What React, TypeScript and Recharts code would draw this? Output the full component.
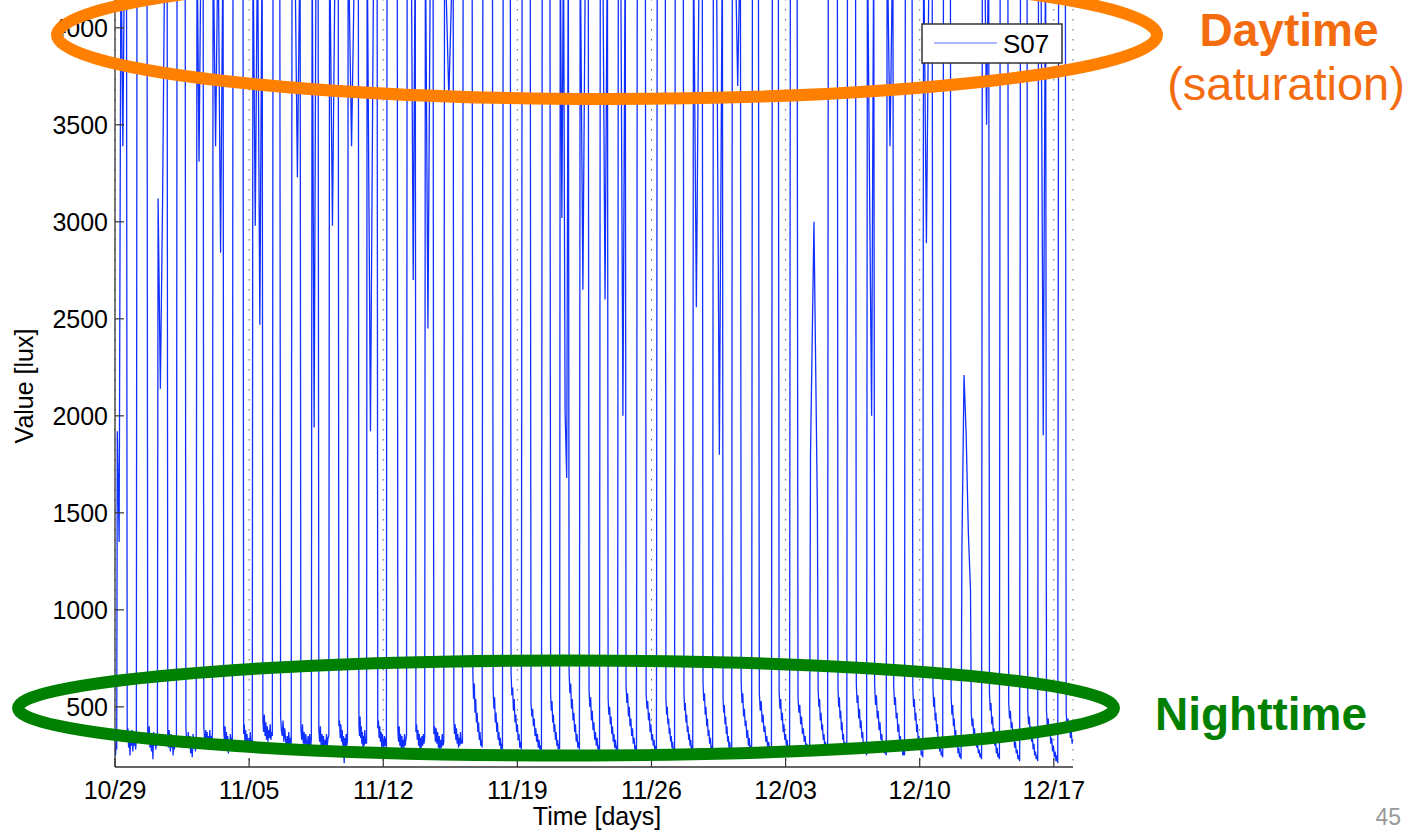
import React from 'react';
import { LineChart, Line, XAxis, YAxis, CartesianGrid } from 'recharts';

const FONT = '"Liberation Sans", Arial, Helvetica, sans-serif';
const SAT = 4500; // sensor saturation, drawn above the visible top

// x axis: days since 10/29
const tickDays = [0, 7, 14, 21, 28, 35, 42, 49];
const tickLabels = ['10/29', '11/05', '11/12', '11/19', '11/26', '12/03', '12/10', '12/17'];
const yTicks = [500, 1000, 1500, 2000, 2500, 3000, 3500, 4000];

// fraction of each day when the light rises / falls
const riseAt = [
  0.12, 0.15, 0.25, 0.24, 0.28, 0.12, 0.16, 0.2, 0.25, 0.24,
  0.29, 0.2, 0.17, 0.16, 0.2, 0.25, 0.2, 0.2, 0.17, 0.2,
  0.26, 0.25, 0.3, 0.24, 0.28, 0.33, 0.27, 0.26, 0.3, 0.24,
  0.19, 0.23, 0.22, 0.27, 0.31, 0.25, 0.3, 0.23, 0.23, 0.27,
  0.3, 0.25, 0.2, 0.24, 0.2, 0.27, 0.2, 0.26, 0.2, 0.25,
];
const setAt = [
  0.6, 0.67, 0.72, 0.66, 0.6, 0.64, 0.68, 0.68, 0.6, 0.66,
  0.6, 0.65, 0.7, 0.68, 0.73, 0.67, 0.6, 0.65, 0.64, 0.7,
  0.63, 0.67, 0.7, 0.66, 0.7, 0.7, 0.63, 0.68, 0.72, 0.66,
  0.65, 0.7, 0.64, 0.58, 0.62, 0.6, 0.66, 0.7, 0.65, 0.6,
  0.6, 0.6, 0.65, 0.6, 0.65, 0.6, 0.6, 0.6, 0.57, 0.6,
];

// daytime readings; days not listed stay saturated
const dayDips: Record<number, number[]> = {
  0: [1920, 1350, SAT, 3390, SAT, SAT],
  2: [3120, 2140, 3120, SAT, SAT],
  4: [SAT, 3310, SAT, SAT],
  5: [SAT, 3390, SAT, 2840, SAT],
  7: [SAT, 2980, SAT, 2470, SAT],
  9: [SAT, SAT, 3230, SAT],
  10: [SAT, 1940, SAT, SAT],
  11: [SAT, 2980, SAT, SAT],
  12: [SAT, 3390, SAT, SAT],
  13: [SAT, 1920, SAT, SAT],
  15: [SAT, SAT, SAT, 2700, SAT],
  16: [SAT, 2450, SAT, SAT],
  17: [SAT, 3640, SAT],
  23: [SAT, 3020, SAT, 2020, 1680, SAT],
  24: [SAT, 2650, SAT, SAT],
  25: [SAT, SAT, 2600, SAT],
  26: [SAT, SAT, 2000, SAT],
  30: [SAT, 2560, SAT, SAT],
  31: [SAT, SAT, 1800, SAT],
  32: [SAT, SAT, 3700, SAT],
  36: [1800, 3000, 1500],
  39: [SAT, 3200, 2000, SAT],
  40: [SAT, 3390, SAT],
  42: [SAT, 2890, SAT, SAT],
  44: [1300, 2210, 1900, 1400, 1100],
  45: [SAT, SAT, 3500, SAT],
  48: [SAT, SAT, 1900, SAT],
};

// readings before the first sunrise
const preVals = [300, 250, 340, 280];

// night readings after each day's light falls
const nightVals = [
  [330, 390, 290, 360, 250, 350, 300, 380, 270, 340, 300, 370, 280, 330],
  [370, 310, 400, 290, 360, 270, 350, 230, 370, 300, 350, 280, 340, 300],
  [350, 290, 380, 310, 270, 360, 290, 340, 250, 330, 280, 350, 300, 320],
  [390, 320, 290, 370, 300, 350, 260, 340, 240, 360, 290, 330, 270, 350],
  [400, 340, 300, 380, 310, 370, 280, 350, 300, 380, 310, 350, 290, 370],
  [380, 330, 400, 300, 370, 290, 350, 260, 330, 280, 360, 300, 340, 290],
  [360, 410, 320, 380, 290, 360, 310, 270, 340, 290, 370, 300, 330, 300],
  [430, 370, 460, 350, 420, 330, 400, 320, 380, 340, 410, 330, 370, 350],
  [450, 380, 350, 430, 320, 390, 340, 290, 350, 300, 370, 290, 340, 310],
  [390, 330, 410, 310, 370, 280, 360, 320, 290, 350, 300, 360, 280, 340],
  [380, 320, 400, 290, 360, 300, 350, 270, 330, 290, 360, 300, 340, 350],
  [400, 430, 340, 410, 320, 380, 300, 350, 210, 340, 290, 360, 300, 330],
  [410, 350, 450, 340, 400, 310, 370, 290, 350, 300, 380, 310, 340, 310],
  [390, 430, 340, 400, 320, 370, 290, 360, 310, 280, 350, 300, 340, 290],
  [380, 320, 400, 300, 360, 290, 350, 270, 330, 290, 360, 300, 330, 350],
  [370, 410, 330, 380, 300, 360, 280, 340, 290, 350, 300, 360, 310, 340],
  [360, 400, 320, 390, 310, 370, 290, 350, 270, 330, 290, 360, 300, 320],
  [430, 360, 410, 330, 390, 310, 360, 290, 340, 300, 370, 310, 330, 310],
  [675, 540, 620, 470, 540, 420, 470, 370, 420, 330, 370, 300, 330, 290],
  [590, 490, 550, 420, 470, 370, 420, 330, 370, 300, 340, 280, 310, 280],
  [675, 560, 600, 480, 540, 420, 460, 370, 410, 330, 360, 290, 320, 280],
  [520, 450, 490, 400, 440, 350, 390, 320, 360, 290, 330, 280, 300, 270],
  [570, 480, 530, 420, 460, 370, 410, 330, 370, 300, 330, 280, 310, 280],
  [675, 570, 620, 490, 540, 430, 470, 370, 410, 320, 360, 290, 320, 280],
  [590, 500, 550, 430, 480, 380, 420, 330, 370, 300, 340, 280, 300, 270],
  [540, 460, 500, 410, 450, 360, 400, 320, 360, 290, 330, 280, 300, 270],
  [615, 520, 570, 450, 500, 400, 440, 350, 390, 310, 340, 280, 300, 260],
  [570, 490, 530, 430, 470, 370, 410, 330, 360, 300, 330, 270, 300, 270],
  [545, 460, 500, 410, 440, 360, 390, 320, 350, 290, 320, 270, 290, 260],
  [570, 480, 520, 420, 460, 370, 400, 330, 360, 300, 330, 270, 300, 270],
  [625, 530, 570, 460, 500, 400, 440, 350, 380, 310, 340, 280, 300, 270],
  [545, 470, 510, 410, 450, 360, 400, 320, 350, 290, 320, 270, 290, 260],
  [625, 520, 570, 450, 490, 400, 430, 340, 380, 300, 340, 280, 300, 270],
  [570, 480, 530, 420, 460, 370, 400, 320, 350, 290, 320, 270, 290, 260],
  [580, 490, 540, 430, 470, 370, 410, 330, 360, 300, 330, 270, 300, 270],
  [555, 470, 510, 410, 450, 360, 390, 320, 350, 280, 310, 260, 290, 250],
  [590, 500, 540, 430, 470, 380, 410, 330, 360, 290, 320, 270, 290, 260],
  [600, 500, 550, 440, 480, 380, 420, 330, 360, 290, 320, 270, 290, 260],
  [615, 520, 560, 440, 490, 390, 430, 340, 370, 290, 320, 260, 290, 250],
  [615, 510, 560, 440, 480, 380, 420, 330, 360, 280, 310, 260, 280, 250],
  [605, 510, 550, 440, 470, 370, 410, 320, 350, 280, 310, 250, 280, 250],
  [600, 500, 540, 430, 470, 370, 410, 320, 350, 280, 310, 250, 270, 240],
  [605, 500, 550, 430, 470, 370, 410, 310, 340, 270, 300, 250, 270, 240],
  [555, 460, 510, 400, 440, 350, 380, 300, 330, 260, 290, 240, 260, 230],
  [470, 400, 440, 360, 390, 320, 350, 290, 310, 260, 280, 240, 260, 230],
  [570, 480, 520, 410, 450, 360, 390, 300, 330, 260, 290, 240, 260, 230],
  [520, 440, 480, 390, 420, 340, 370, 290, 320, 260, 280, 230, 250, 220],
  [485, 410, 450, 370, 400, 320, 350, 280, 310, 250, 270, 230, 250, 220],
  [480, 400, 440, 360, 390, 310, 340, 270, 300, 240, 270, 220, 250, 210],
  [470, 400, 440, 370, 410, 340, 370, 310, 330],
];

const LAST_DAY = nightVals.length - 1;
const END = 50;

const data: { t: number; v: number }[] = [];
preVals.forEach((v, j) => data.push({ t: (riseAt[0] * j) / preVals.length, v }));
nightVals.forEach((night, d) => {
  const shape = dayDips[d] ?? [SAT, SAT];
  const r = d + riseAt[d];
  const s = d + setAt[d];
  shape.forEach((v, i) => data.push({ t: r + ((s - r) * i) / (shape.length - 1), v }));
  const last = d === LAST_DAY;
  const end = last ? END : d + 1 + riseAt[d + 1];
  const steps = night.length + (last ? 0 : 1);
  night.forEach((v, j) => data.push({ t: s + ((end - s) * (j + 1)) / steps, v }));
});

const XTick = ({ x, y, payload }: any) => (
  <g>
    <line x1={x} x2={x} y1={y} y2={y - 9} stroke="#333" strokeWidth={1.2} />
    <text x={x} y={y + 32} textAnchor="middle" fontSize={25} fontFamily={FONT} fill="#000">
      {tickLabels[tickDays.indexOf(payload.value)]}
    </text>
  </g>
);

const YTick = ({ x, y, payload }: any) => (
  <g>
    <line x1={x} x2={x + 9} y1={y} y2={y} stroke="#333" strokeWidth={1.2} />
    <text x={x - 7} y={y} dy="0.36em" textAnchor="end" fontSize={25} fontFamily={FONT} fill="#000">
      {payload.value}
    </text>
  </g>
);

export default function App() {
  return (
    <div style={{ position: 'absolute', left: 0, top: 0, width: 1413, height: 837, overflow: 'hidden', background: '#fff' }}>
      <div style={{ position: 'absolute', left: 0, top: -21 }}>
        <LineChart width={1413} height={858} data={data} margin={{ top: 10, right: 340, bottom: 0, left: 55 }}>
          <CartesianGrid horizontal={false} stroke="#666" strokeDasharray="1.5 8.5" />
          <XAxis
            dataKey="t"
            type="number"
            domain={[0, END]}
            ticks={tickDays}
            interval={0}
            allowDataOverflow
            height={70}
            tickLine={false}
            tickSize={0}
            tickMargin={0}
            tick={(p: any) => <XTick {...p} />}
            axisLine={{ stroke: '#333', strokeWidth: 1.3 }}
          />
          <YAxis
            type="number"
            domain={[190, 4200]}
            ticks={yTicks}
            interval={0}
            allowDataOverflow
            width={60}
            tickLine={false}
            tickSize={0}
            tickMargin={0}
            tick={(p: any) => <YTick {...p} />}
            axisLine={{ stroke: '#333', strokeWidth: 1.3 }}
          />
          <Line
            type="linear"
            dataKey="v"
            stroke="#1030ff"
            strokeWidth={1.3}
            dot={false}
            activeDot={false}
            isAnimationActive={false}
          />
        </LineChart>
      </div>

      <svg width={1413} height={837} style={{ position: 'absolute', left: 0, top: 0, pointerEvents: 'none' }}>
        {/* axis titles */}
        <text x={597} y={825} textAnchor="middle" fontSize={25} fontFamily={FONT} fill="#000">Time [days]</text>
        <text x={33} y={386} transform="rotate(-90 33 386)" textAnchor="middle" fontSize={25} fontFamily={FONT} fill="#000">
          Value [lux]
        </text>

        {/* legend */}
        <rect x={922} y={24} width={140} height={39} fill="#fff" stroke="#333" strokeWidth={1.5} />
        <line x1={934} x2={997} y1={43} y2={43} stroke="#5a6cff" strokeWidth={1.2} />
        <text x={1003} y={53} fontSize={26} fontFamily={FONT} fill="#000">S07</text>

        {/* slide annotations */}
        <ellipse cx={607} cy={35} rx={550} ry={64} fill="none" stroke="#ff7f00" strokeWidth={12} />
        <ellipse cx={566} cy={708} rx={548} ry={47.5} fill="none" stroke="#008000" strokeWidth={12} />
        <text x={1289} y={46} textAnchor="middle" fontSize={46} fontWeight="bold" fontFamily={FONT} fill="#f36c10">Daytime</text>
        <text x={1286} y={100} textAnchor="middle" fontSize={47} fontFamily={FONT} fill="#f36c10">(saturation)</text>
        <text x={1261} y={730} textAnchor="middle" fontSize={46} fontWeight="bold" fontFamily={FONT} fill="#008000">Nighttime</text>
        <text x={1401} y={825} textAnchor="end" fontSize={23} fontFamily={FONT} fill="#999">45</text>
      </svg>
    </div>
  );
}
